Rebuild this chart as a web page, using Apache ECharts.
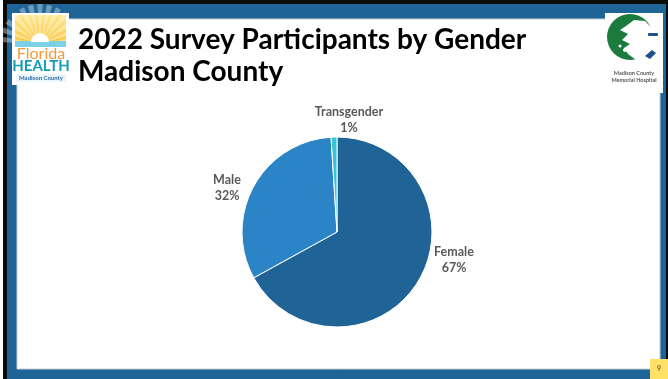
<!DOCTYPE html>
<html><head><meta charset="utf-8">
<script src="https://cdn.jsdelivr.net/npm/echarts@6/dist/echarts.min.js"></script>
<style>html,body{margin:0;padding:0;background:#fff}#c{width:668px;height:379px}</style>
</head><body><div id="c"></div>
<script>
// ---- data ----
const categories = ['Female', 'Male', 'Transgender'];
const values = [67, 32, 1];
const titleLines = ['2022 Survey Participants by Gender', 'Madison County'];
const pageNumber = '9';

// ---- styling ----
const sliceColors = ['#1F6397', '#2A84C6', '#3BC3D3'];
const CX = 337, CY = 232, R = 95;
const labelOffsets = [[117, 28], [-110, -44], [12, -112]];
const BLUE = '#1F6496';

const chart = echarts.init(document.getElementById('c'), null, {renderer: 'canvas'});

const rays = [];
for (let k = 0; k < 13; k++) {
  const a = Math.PI + (k + 0.5) * Math.PI / 13;
  const a1 = a - 0.07, a2 = a + 0.07;
  rays.push({type: 'polygon', z: 7, shape: {points: [[40, 44], [40 + 40 * Math.cos(a1), 44 + 40 * Math.sin(a1)], [40 + 40 * Math.cos(a2), 44 + 40 * Math.sin(a2)]]},
    style: {fill: 'rgba(255,255,255,0.35)'}});
}

const graphics = [
  // frame
  {type: 'rect', shape: {x: 0, y: 0, width: 668, height: 379}, style: {fill: BLUE}, z: 0},
  {type: 'rect', shape: {x: 0, y: 0, width: 668, height: 4}, style: {fill: '#0b0b0b'}, z: 1},
  {type: 'rect', shape: {x: 3, y: 0, width: 4, height: 379}, style: {fill: '#0b0b0b'}, z: 1},
  {type: 'rect', shape: {x: 0, y: 0, width: 3, height: 379}, style: {fill: '#ffffff'}, z: 1},
  {type: 'rect', shape: {x: 666, y: 0, width: 2, height: 379}, style: {fill: '#0b0b0b'}, z: 1},
  {type: 'rect', shape: {x: 17, y: 19, width: 643, height: 350}, style: {fill: '#ffffff', stroke: '#c9ced6', lineWidth: 1}, z: 2},
  // title
  {type: 'text', x: 78, y: 24, z: 5, style: {text: titleLines.join('\n'), font: 'bold 28px Lato', fill: '#000000', lineHeight: 32}},
  // page number
  {type: 'rect', shape: {x: 650, y: 359, width: 18, height: 20}, style: {fill: '#FFE066'}, z: 5},
  {type: 'text', x: 659, y: 369, z: 6, style: {text: pageNumber, font: 'bold 7px Lato', fill: '#7a6a20', align: 'center', verticalAlign: 'middle'}},
  // Florida Health logo
  {type: 'rect', shape: {x: 12, y: 13, width: 57, height: 72}, style: {fill: '#ffffff'}, z: 5},
  {type: 'rect', shape: {x: 15, y: 15, width: 51, height: 30}, z: 6,
    style: {fill: new echarts.graphic.LinearGradient(0, 0, 0, 1, [{offset: 0, color: '#FFE68A'}, {offset: 1, color: '#F8C53A'}])}},
  ...rays,
  {type: 'rect', shape: {x: 15, y: 41, width: 51, height: 6}, style: {fill: '#7ED0E6'}, z: 8},
  {type: 'sector', shape: {cx: 40, cy: 42, r0: 0, r: 9, startAngle: Math.PI, endAngle: 2 * Math.PI}, style: {fill: '#ffffff'}, z: 9},
  {type: 'text', x: 41, y: 54, z: 8, style: {text: 'Florida', font: '16px Lato', fill: '#F39A3D', align: 'center', verticalAlign: 'middle'}},
  {type: 'text', x: 41, y: 66, z: 8, style: {text: 'HEALTH', font: 'bold 15px Lato', fill: '#179DB3', align: 'center', verticalAlign: 'middle'}},
  {type: 'rect', shape: {x: 16, y: 74, width: 50, height: 8}, style: {fill: '#EAF6FA'}, z: 8},
  {type: 'text', x: 41, y: 78, z: 9, style: {text: 'Madison County', font: 'bold 6px Lato', fill: '#2a6aa8', align: 'center', verticalAlign: 'middle'}},
  // Hospital logo
  {type: 'rect', shape: {x: 605, y: 13, width: 58, height: 80}, style: {fill: '#ffffff'}, z: 5},
  {type: 'circle', shape: {cx: 630, cy: 37, r: 23}, style: {fill: '#1B7A3E'}, z: 6},
  {type: 'polygon', shape: {points: [[626, 26], [634, 20], [645, 21], [652, 28], [655, 38], [653, 50], [645, 58], [636, 60], [628, 54], [624, 48], [630, 44], [622, 40], [628, 34], [620, 30]]}, style: {fill: '#ffffff'}, z: 7},
  {type: 'circle', shape: {cx: 625, cy: 50, r: 2}, style: {fill: '#ffffff'}, z: 7},
  {type: 'circle', shape: {cx: 620, cy: 46, r: 1.5}, style: {fill: '#ffffff'}, z: 7},
  {type: 'rect', shape: {x: 648, y: 33, width: 10, height: 3, r: 1}, style: {fill: '#1E4E8C'}, z: 8},
  {type: 'polygon', shape: {points: [[645, 56], [652, 50], [656, 53], [650, 59]]}, style: {fill: '#1E4E8C'}, z: 8},
  {type: 'text', x: 634, y: 73, z: 8, style: {text: 'Madison County', font: 'bold 5.5px Lato', fill: '#555', align: 'center', verticalAlign: 'middle'}},
  {type: 'text', x: 634, y: 80, z: 8, style: {text: 'Memorial Hospital', font: 'bold 5.5px Lato', fill: '#555', align: 'center', verticalAlign: 'middle'}}
];

chart.setOption({
  animation: false,
  backgroundColor: '#ffffff',
  graphic: graphics,
  series: [{
    type: 'pie',
    center: [CX, CY],
    radius: R,
    startAngle: 90,
    clockwise: true,
    percentPrecision: 0,
    z: 10,
    data: categories.map((c, i) => ({name: c, value: values[i], itemStyle: {color: sliceColors[i]}})),
    itemStyle: {borderColor: '#ffffff', borderWidth: 1},
    label: {
      show: true,
      position: 'outside',
      formatter: '{b}\n{d}%',
      color: '#595959',
      fontFamily: 'Lato',
      fontWeight: 'bold',
      fontSize: 12.5,
      lineHeight: 16,
      align: 'center'
    },
    labelLine: {show: false},
    labelLayout: function (p) {
      const o = labelOffsets[p.dataIndex];
      return {x: CX + o[0], y: CY + o[1], align: 'center', verticalAlign: 'middle'};
    },
    emphasis: {disabled: true}
  }]
});
</script>
</body></html>
